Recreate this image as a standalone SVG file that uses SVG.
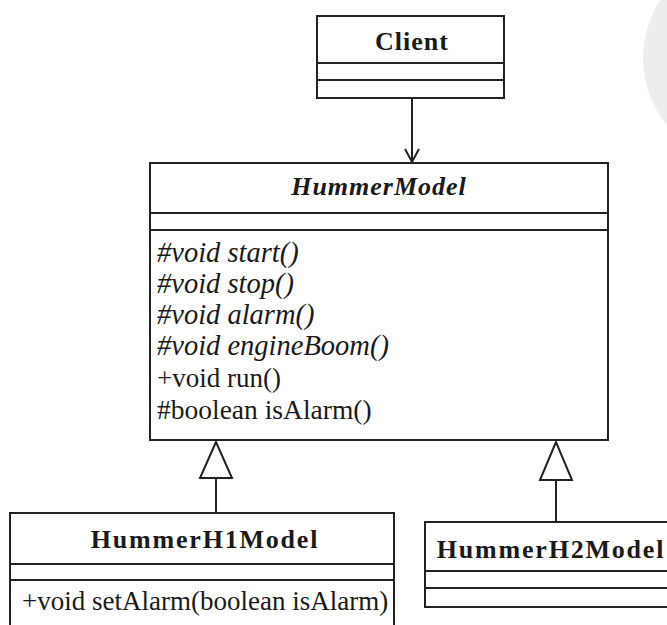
<svg xmlns="http://www.w3.org/2000/svg" width="667" height="625" viewBox="0 0 667 625">
<style>
.box{fill:#fff;stroke:#222;stroke-width:2}
.ln{stroke:#222;stroke-width:2;fill:none}
.t{font-family:"Liberation Serif","Times New Roman",serif;fill:#1a1a1a}
.title{font-weight:bold;font-size:26px;text-anchor:middle;letter-spacing:1px}
.wide{letter-spacing:1.8px}
.m{font-size:27px}
.i{font-style:italic;font-size:28.5px}
</style>
<rect width="667" height="625" fill="#fff"/>
<circle cx="750" cy="58" r="107" fill="#ededf0"/>
<g id="connectors">
<line class="ln" x1="412" y1="98" x2="412" y2="162"/>
<polyline class="ln" points="405,149 412,162 419,149"/>
<line class="ln" x1="216" y1="478" x2="216" y2="513"/>
<polygon class="ln" points="216,442 200,478 232,478" fill="#fff"/>
<line class="ln" x1="556" y1="480" x2="556" y2="522"/>
<polygon class="ln" points="556,442 540,480 572,480" fill="#fff"/>
</g>
<g id="client">
<rect class="box" x="317" y="16" width="187" height="82"/>
<line class="ln" x1="317" y1="63" x2="504" y2="63"/>
<line class="ln" x1="317" y1="80" x2="504" y2="80"/>
<text class="t title" x="412" y="50">Client</text>
</g>
<g id="hummerModel">
<rect class="box" x="150" y="163" width="458" height="277"/>
<line class="ln" x1="150" y1="213" x2="608" y2="213"/>
<line class="ln" x1="150" y1="230" x2="608" y2="230"/>
<text class="t title" x="379" y="195" style="font-style:italic">HummerModel</text>
<text class="t m i" x="157" y="262">#void start()</text>
<text class="t m i" x="157" y="293">#void stop()</text>
<text class="t m i" x="157" y="324">#void alarm()</text>
<text class="t m i" x="157" y="355">#void engineBoom()</text>
<text class="t m" x="157" y="387">+void run()</text>
<text class="t m" x="157" y="419" style="font-size:27.5px">#boolean isAlarm()</text>
</g>
<g id="hummerH1Model">
<rect class="box" x="10" y="513" width="384" height="120"/>
<line class="ln" x1="10" y1="564" x2="394" y2="564"/>
<line class="ln" x1="10" y1="580" x2="394" y2="580"/>
<text class="t title wide" x="205" y="548">HummerH1Model</text>
<text class="t m" x="22" y="610">+void setAlarm(boolean isAlarm)</text>
</g>
<g id="hummerH2Model">
<rect class="box" x="425" y="522" width="260" height="85"/>
<line class="ln" x1="425" y1="571" x2="685" y2="571"/>
<line class="ln" x1="425" y1="588" x2="685" y2="588"/>
<text class="t title wide" x="551" y="558">HummerH2Model</text>
</g>
</svg>
